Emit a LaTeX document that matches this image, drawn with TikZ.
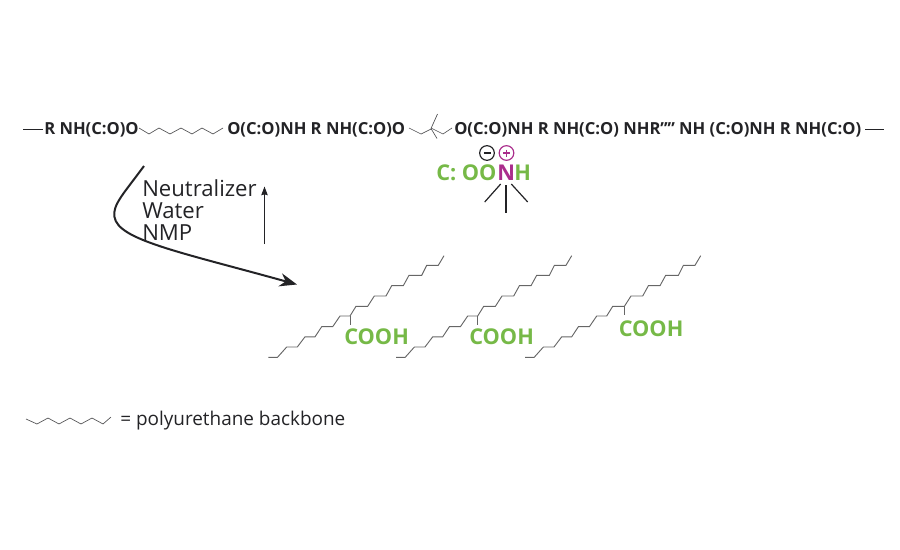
\documentclass[tikz,border=0pt]{standalone}
\usepackage{fontspec}
\setmainfont{Open Sans}
\usetikzlibrary{arrows.meta}
\definecolor{acidgreen}{RGB}{118,185,71}
\definecolor{aminepink}{RGB}{170,45,140}
\definecolor{inkdark}{RGB}{35,35,38}
\tikzset{
  chaintext/.style={anchor=base west,inner sep=0pt,font=\fontsize{12.45}{15}\selectfont\bfseries,text=inkdark},
  acidtext/.style={anchor=base west,inner sep=0pt,font=\fontsize{16.3}{19}\selectfont\bfseries,text=acidgreen},
  plaintext/.style={anchor=base west,inner sep=0pt,font=\fontsize{16.6}{19}\selectfont,text=inkdark},
  backbone/.style={line width=0.5pt,draw=inkdark!80},
  tailchain/.style={line width=0.7pt,draw=black!60},
  bondline/.style={line width=0.9pt,draw=inkdark},
  signring/.style={circle,line width=0.9pt,minimum size=11pt,inner sep=0pt},
}
\begin{document}
\begin{tikzpicture}[x=0.75pt,y=0.75pt,yscale=-1,xscale=1]
\useasboundingbox (0,0) rectangle (900,550);

% Main chain text
\node [chaintext] (segA) at (44,134) {R NH(C:O)O};
\node [chaintext] (segB) at (227,134) {O(C:O)NH R NH(C:O)O};
\node [chaintext] (segC) at (454,134) {O(C:O)NH R NH(C:O) NHR’’’’ NH (C:O)NH R NH(C:O)};
% End dashes
\draw [bondline] (23,129.5) -- (43,129.5) ;
\draw [bondline] (865,129.5) -- (884,129.5) ;
% Backbone between segments
\draw [backbone] (139,128) -- (149,134) -- (159,128) -- (170,134) -- (181,128) -- (192,134) -- (202,128) -- (213,134) -- (223,128) ;
% Branched segment
\draw [backbone] (409,128) -- (421,134) -- (432,128.5) -- (443,134) -- (452,128) ;
\draw [backbone] (437.5,114) -- (431,128.5) -- (437,138.5) ;

% Salt group
\node [acidtext] (acidC) at (436,180) {C: OO};
\node [acidtext,text=aminepink] (amineN) at (497,180) {N};
\node [acidtext] (amineH) at (514,180) {H};
\node [signring,draw=inkdark] (minusSign) at (487,153) {};
\node [signring,draw=aminepink] (plusSign) at (506.5,153) {};
\draw [inkdark,line width=0.9pt] (483.5,153) -- (490.5,153) ;
\draw [aminepink,line width=0.9pt] (503,153) -- (510,153) (506.5,149.5) -- (506.5,156.5) ;
\draw [bondline] (500.7,184) -- (484.7,202) ;
\draw [bondline] (506,185) -- (506,212.7) ;
\draw [bondline] (511.3,184) -- (527.7,202) ;

% Reagents
\node [plaintext] (reagentA) at (142,196) {Neutralizer};
\node [plaintext] (reagentB) at (142,218) {Water};
\node [plaintext] (reagentC) at (142,240) {NMP};
\coordinate (riseStart) at (264.5,244);
\coordinate (riseEnd) at (264.5,186.5);
\draw [-{Stealth[length=6.5pt,width=4.8pt,inset=0.6pt]},line width=0.8pt,inkdark] (riseStart) -- (riseEnd) ;
% Curved arrow
\coordinate (curveStart) at (144,166);
\coordinate (curveEnd) at (297,284.5);
\draw [-{Stealth[length=13pt,width=10pt]},line width=1.5pt,inkdark] (curveStart) .. controls (125,192) and (112,205) .. (114.5,217) .. controls (118,240) and (180,252) .. (curveEnd) ;

% Fatty acid chains
\foreach \sx/\name in {0/one,127.7/two,256.7/three}{
  \begin{scope}[xshift=\sx*0.75pt]
  \draw [tailchain] (268.3,357.3) -- (277.5,357.3)
    -- (286.7,347) -- (297.3,347) -- (305,336.8) -- (315,336.8)
    -- (321.7,326.7) -- (332.7,326.7) -- (340,316) -- (350,316)
    -- (356,306.3) -- (367.7,306.3) -- (374.3,296) -- (386,296)
    -- (391.7,285.7) -- (403.3,285.7) -- (409,275.3) -- (421.7,275.3)
    -- (426.7,265.3) -- (438.3,265.3) -- (444,255.7) ;
  \end{scope}
}
\draw [tailchain] (350,316) -- (350,325) ;
\draw [tailchain] (477.7,316) -- (477.7,325) ;
\draw [tailchain] (624.3,306) -- (624.3,315) ;
\node [acidtext] (acidA) at (344,344.3) {COOH};
\node [acidtext] (acidB) at (469,344.3) {COOH};
\node [acidtext] (acidD) at (618.5,336.7) {COOH};

% Legend
\draw [backbone] (26,419) -- (37,424) -- (48,418) -- (59,424) -- (70,418) -- (81,424) -- (92,418) -- (103,424) -- (111,417) ;
\node [plaintext,font=\fontsize{14.2}{17}\selectfont] (legendText) at (120,425) {= polyurethane backbone};

\end{tikzpicture}
\end{document}
